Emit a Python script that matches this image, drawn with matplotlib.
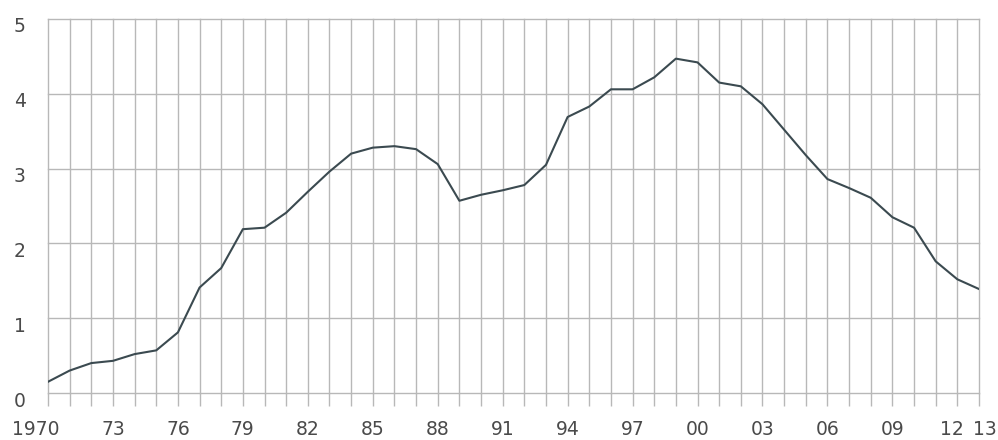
import numpy as np
import matplotlib
matplotlib.use("Agg")
import matplotlib.pyplot as plt
import matplotlib.transforms as mtransforms

# Values
years = list(range(1970, 2014))
values = [0.15, 0.30, 0.40, 0.43, 0.52, 0.57, 0.81, 1.41, 1.67, 2.19,
          2.21, 2.41, 2.69, 2.96, 3.20, 3.28, 3.30, 3.26, 3.06, 2.57,
          2.65, 2.71, 2.78, 3.05, 3.69, 3.83, 4.06, 4.06, 4.22, 4.47,
          4.42, 4.15, 4.10, 3.86, 3.52, 3.18, 2.86, 2.74, 2.61, 2.35,
          2.21, 1.76, 1.52, 1.39]
x_tick_pos = [1970, 1973, 1976, 1979, 1982, 1985, 1988, 1991, 1994,
              1997, 2000, 2003, 2006, 2009, 2012, 2013]
x_tick_labels = ["1970", "73", "76", "79", "82", "85", "88", "91", "94",
                 "97", "00", "03", "06", "09", "12", "13"]
y_ticks = [0, 1, 2, 3, 4, 5]

grid_col = "#b8b8b8"
text_col = "#4a4a4a"

fig = plt.figure(figsize=(9.98, 4.40), dpi=100)
ax = fig.add_axes([48 / 998, 47 / 440, 931 / 998, 374 / 440])

ax.plot(years, values, color="#3b4a50", lw=1.5, zorder=3)

ax.set_xlim(1970, 2013)
ax.set_ylim(0, 5)

# one vertical grid line per year, with the tick running past the baseline
ax.set_xticks(years, minor=True)
ax.set_xticks(x_tick_pos)
ax.set_xticklabels(x_tick_labels)
ax.set_yticks(y_ticks)

ax.grid(True, which="both", axis="x", color=grid_col, lw=1.0)
ax.grid(True, which="major", axis="y", color=grid_col, lw=1.0)

ax.tick_params(axis="x", which="both", length=9.5, width=1.0, color=grid_col,
               labelsize=13.5, labelcolor=text_col, pad=10)
ax.tick_params(axis="y", length=0, labelsize=13.5, labelcolor=text_col, pad=16)

# keep the edge grid lines whole
ticks = (ax.xaxis.get_major_ticks() + ax.xaxis.get_minor_ticks()
         + ax.yaxis.get_major_ticks())
for t in ticks:
    t.gridline.set_clip_on(False)

for s in ax.spines.values():
    s.set_visible(False)

# small nudges so the labels sit like the original
def nudge(lbl, dx, dy):
    lbl.set_transform(lbl.get_transform() +
                      mtransforms.ScaledTranslation(dx / 100, dy / 100, fig.dpi_scale_trans))

xl = ax.get_xticklabels()
nudge(xl[0], -12, 0)
nudge(xl[-2], -5, 0)
nudge(xl[-1], 6, 0)
for lbl in ax.get_yticklabels():
    nudge(lbl, 0, -6)

fig.savefig("out.png", dpi=100)
